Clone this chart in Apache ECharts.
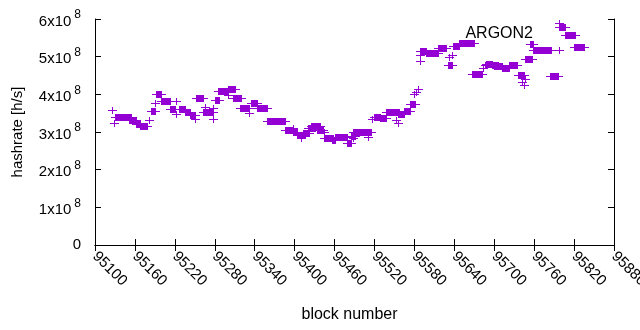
<!DOCTYPE html>
<html>
<head>
<meta charset="utf-8">
<script src="https://cdn.jsdelivr.net/npm/echarts@6/dist/echarts.min.js"></script>
<style>
  html, body { margin: 0; padding: 0; background: #fff; }
  #chart { width: 640px; height: 330px; }
</style>
</head>
<body>
<div id="chart"></div>
<script>
// each run = consecutive blocks measured with the same hashrate (1e8 h/s)
var runStart = [95125, 95128, 95130, 95151, 95162, 95168, 95181, 95184, 95190, 95192,
  95199, 95222, 95213, 95222, 95226, 95236, 95243, 95251, 95252,
  95254, 95262, 95266, 95277, 95278, 95280, 95285, 95300, 95300, 95308,
  95318, 95332, 95335, 95343, 95359, 95368, 95385, 95398, 95397,
  95404, 95410, 95412, 95420, 95424, 95434, 95444, 95444, 95456, 95461,
  95478, 95487, 95485, 95488, 95508, 95510, 95516, 95519, 95529, 95538,
  95550, 95553, 95555, 95555, 95565, 95574, 95580, 95583, 95586, 95588,
  95589, 95589, 95597, 95616, 95632, 95630, 95636, 95638, 95647, 95667,
  95683, 95686, 95687, 95697, 95700, 95711, 95722, 95735, 95737, 95741,
  95745, 95746, 95746, 95754, 95758, 95797, 95784, 95797, 95798, 95806, 95820];
var runEnd = [95125, 95128, 95154, 95161, 95167, 95178, 95181, 95190, 95190, 95199,
  95213, 95222, 95220, 95222, 95236, 95243, 95250, 95251, 95252,
  95263, 95277, 95266, 95277, 95278, 95287, 95299, 95300, 95310, 95319,
  95331, 95332, 95343, 95358, 95368, 95386, 95397, 95398, 95404,
  95415, 95410, 95422, 95430, 95438, 95442, 95444, 95458, 95461, 95478,
  95485, 95487, 95490, 95508, 95515, 95510, 95516, 95529, 95537, 95548,
  95557, 95553, 95555, 95565, 95574, 95581, 95580, 95583, 95586, 95588,
  95589, 95597, 95616, 95628, 95632, 95636, 95636, 95647, 95669, 95682,
  95683, 95686, 95697, 95705, 95711, 95722, 95734, 95735, 95745, 95741,
  95745, 95746, 95757, 95758, 95785, 95797, 95796, 95797, 95807, 95821, 95835];
var runRate = [3.58, 3.25, 3.41, 3.33, 3.20, 3.15, 3.33, 3.55, 3.78, 4.02,
  3.83, 3.83, 3.60, 3.49, 3.60, 3.52, 3.45, 3.35, 3.90,
  3.90, 3.52, 3.67, 3.35, 3.65, 3.86, 4.08, 3.98, 4.15, 3.91,
  3.65, 3.50, 3.78, 3.65, 3.28, 3.30, 3.04, 3.10, 3.00,
  2.92, 2.84, 2.98, 3.10, 3.17, 3.05, 3.00, 2.84, 2.79, 2.87,
  2.71, 2.84, 2.90, 2.99, 3.01, 2.88, 3.35, 3.41, 3.37, 3.52,
  3.53, 3.33, 3.25, 3.48, 3.57, 3.75, 4.00, 4.07, 4.15, 4.89,
  5.05, 5.14, 5.09, 5.23, 5.00, 4.78, 5.05, 5.27, 5.37, 4.53,
  4.70, 4.78, 4.81, 4.78, 4.74, 4.69, 4.77, 4.52, 4.52, 4.33,
  4.25, 4.40, 4.93, 5.34, 5.18, 5.18, 4.48, 5.90, 5.78, 5.58, 5.26];

var xMin = 95100, xMax = 95880, xStep = 60;
var yMin = 0, yMax = 6, yStep = 1;

var runs = runStart.map(function (s, i) { return [s, runEnd[i], runRate[i]]; });

var chart = echarts.init(document.getElementById('chart'));
var font = 'Liberation Sans, Arial, sans-serif';
var purple = '#9400d3';
var armX = 4, armY = 3;

// a run of '+' points merges into a filled bar with the arms sticking out at both ends
function plusRun(params, api) {
  var a = api.coord([api.value(0), api.value(2)]);
  var b = api.coord([api.value(1), api.value(2)]);
  var x0 = Math.round(a[0]), x1 = Math.round(b[0]), y = Math.round(a[1]);
  return {
    type: 'group',
    children: [
      { type: 'rect', shape: { x: x0, y: y - armY, width: x1 - x0 + 1, height: armY * 2 + 1 },
        style: { fill: purple } },
      { type: 'rect', shape: { x: x0 - armX, y: y, width: x1 - x0 + 2 * armX + 1, height: 1 },
        style: { fill: purple } }
    ]
  };
}

var axisLine = { show: true, lineStyle: { color: '#000', width: 1 } };
var tick = { show: true, inside: true, length: 6, lineStyle: { color: '#000' } };

var option = {
  animation: false,
  textStyle: { fontFamily: font },
  grid: { left: 95, right: 26, top: 19, bottom: 85, outerBoundsMode: 'none', containLabel: false },
  title: {
    text: 'ARGON2', right: 102, top: 21,
    textStyle: { fontFamily: font, fontSize: 16, fontWeight: 'normal', color: '#000' }
  },
  xAxis: [{
    type: 'value', min: xMin, max: xMax, interval: xStep,
    name: 'block number', nameLocation: 'middle', nameGap: 62,
    nameTextStyle: { fontFamily: font, fontSize: 16, color: '#000', padding: [0, 10, 0, 0] },
    axisLine: axisLine, axisTick: tick, splitLine: { show: false },
    axisLabel: {
      rotate: -45, margin: 9, fontFamily: font, fontSize: 15, color: '#000',
      formatter: function (v) { return String(v); }
    }
  }, {
    type: 'value', position: 'top', min: xMin, max: xMax, interval: xStep,
    axisLine: axisLine, axisTick: tick, splitLine: { show: false },
    axisLabel: { show: false }
  }],
  yAxis: [{
    type: 'value', min: yMin, max: yMax, interval: yStep,
    name: 'hashrate [h/s]', nameLocation: 'middle', nameGap: 70,
    nameTextStyle: { fontFamily: font, fontSize: 15, color: '#000' },
    axisLine: axisLine, axisTick: tick, splitLine: { show: false },
    axisLabel: {
      margin: 14, color: '#000', fontFamily: font,
      formatter: function (v) { return v === 0 ? '{z|0}' : '{b|' + v + 'x10}{s|8}'; },
      rich: {
        z: { fontSize: 15, fontFamily: font, color: '#000' },
        b: { fontSize: 15, fontFamily: font, color: '#000', lineHeight: 20, verticalAlign: 'bottom' },
        s: { fontSize: 12, fontFamily: font, color: '#000', lineHeight: 20, verticalAlign: 'top', padding: [0, 0, 0, 3] }
      }
    }
  }, {
    type: 'value', position: 'right', min: yMin, max: yMax, interval: yStep,
    axisLine: axisLine, axisTick: tick, splitLine: { show: false },
    axisLabel: { show: false }
  }],
  series: [{
    name: 'ARGON2',
    type: 'custom',
    renderItem: plusRun,
    encode: { x: [0, 1], y: 2 },
    data: runs
  }]
};

chart.setOption(option);
</script>
</body>
</html>
